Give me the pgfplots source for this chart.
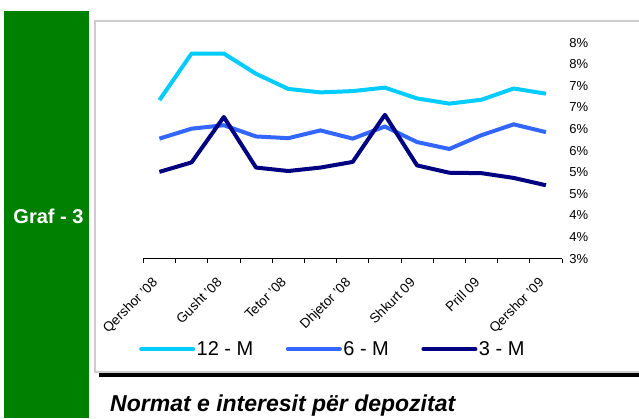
\documentclass[border=0pt]{standalone}
\usepackage{fontspec}
\setmainfont{Liberation Sans}
\usepackage{pgfplots}
\pgfplotsset{compat=1.18}
\definecolor{c12}{HTML}{00CCFF}
\definecolor{c6}{HTML}{3366FF}
\definecolor{c3}{HTML}{000080}
\definecolor{grn}{HTML}{008000}
\definecolor{frame}{HTML}{CCCCCC}
\begin{document}
\begin{tikzpicture}[x=1pt,y=1pt]
\useasboundingbox (0,0) rectangle (639,-418);
\fill[white] (0,0) rectangle (639,-418);
\fill[grn] (4,-11) rectangle (89,-418);
\node[text=white, font=\fontsize{20}{24}\selectfont\bfseries, inner sep=0] at (48.5,-216) {Graf - 3};
\draw[line width=1.5pt, frame] (645,-21) -- (95,-21) -- (95,-372) -- (645,-372);
\draw[line width=4.2pt, black] (99,-375.3) -- (645,-375.3);
\node[anchor=base west, font=\fontsize{23}{27}\selectfont\bfseries\itshape, inner sep=0] at (110,-411.7) {Normat e interesit për depozitat};
\begin{axis}[
  at={(143.3pt,-258.7pt)}, anchor=south west,
  scale only axis, width=418.7pt, height=216pt,
  xmin=-0.5, xmax=12.5, ymin=3, ymax=8,
  clip=false,
  axis x line=bottom, axis y line=right,
  x axis line style={-, black, line width=0.8pt},
  y axis line style={draw=none},
  /pgf/number format/assume math mode=true,
  xtick={0,2,...,12},
  xticklabels={Qershor '08, Gusht '08, Tetor '08, Dhjetor '08, Shkurt 09, Prill 09, Qershor '09},
  major x tick style={draw=none},
  minor xtick={-0.5,0.5,...,12.5},
  minor x tick style={black, line width=0.8pt},
  minor tick length=4.5pt,
  tick align=outside,
  xticklabel style={xshift=-8pt, yshift=-12pt, rotate=45, anchor=north east, font=\fontsize{13.5}{15}\selectfont, inner sep=1pt},
  ytick={3,3.5,...,8},
  yticklabels={3\%,4\%,4\%,5\%,5\%,6\%,6\%,7\%,7\%,8\%,8\%},
  ytick style={draw=none},
  yticklabel style={anchor=west, font=\fontsize{13}{15}\selectfont, inner sep=0pt, xshift=3pt},
  legend columns=3,
  legend style={at={(-0.0103,-0.418)}, anchor=west, draw=none, fill=none, inner sep=0pt,
    font=\fontsize{20}{24}\selectfont,
    nodes={inner sep=1.5pt},
    /tikz/every even column/.append style={column sep=31pt}},
  legend image code/.code={\draw[#1, line width=4pt, line cap=round] (0pt,0pt) -- (52pt,0pt);},
]
\addplot[c12, line width=4pt, line join=round] coordinates {
(0,6.67) (1,7.75) (2,7.75) (3,7.28) (4,6.93) (5,6.85) (6,6.88) (7,6.96) (8,6.71) (9,6.59) (10,6.68) (11,6.94) (12,6.82)};
\addlegendentry{12 - M}
\addplot[c6, line width=4pt, line join=round] coordinates {
(0,5.78) (1,6.01) (2,6.09) (3,5.83) (4,5.79) (5,5.97) (6,5.78) (7,6.06) (8,5.70) (9,5.54) (10,5.86) (11,6.11) (12,5.93)};
\addlegendentry{6 - M}
\addplot[c3, line width=4pt, line join=round] coordinates {
(0,5.01) (1,5.23) (2,6.28) (3,5.11) (4,5.03) (5,5.11) (6,5.24) (7,6.33) (8,5.16) (9,4.99) (10,4.98) (11,4.87) (12,4.70)};
\addlegendentry{3 - M}
\end{axis}
\end{tikzpicture}
\end{document}
